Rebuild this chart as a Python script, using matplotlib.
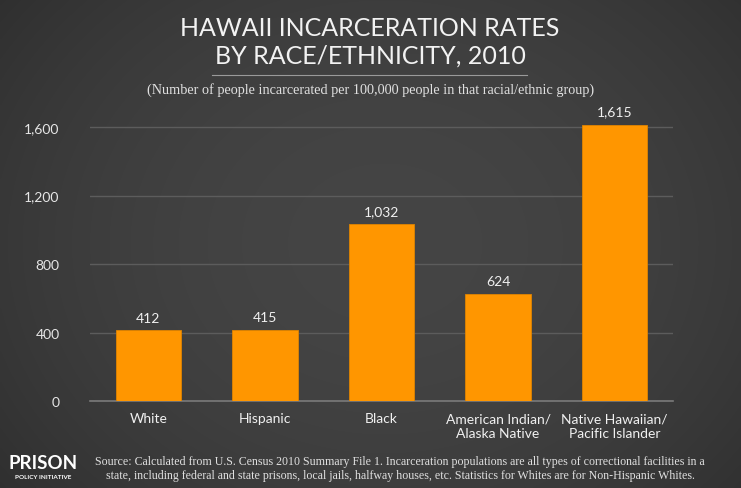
import matplotlib
matplotlib.use("Agg")
import matplotlib.pyplot as plt
import numpy as np

categories = ["White", "Hispanic", "Black", "American Indian/\nAlaska Native", "Native Hawaiian/\nPacific Islander"]
values = [412, 415, 1032, 624, 1615]
value_labels = ["412", "415", "1,032", "624", "1,615"]
yticks = [0, 400, 800, 1200, 1600]
ytick_labels = ["0", "400", "800", "1,200", "1,600"]

title = "HAWAII INCARCERATION RATES\nBY RACE/ETHNICITY, 2010"
subtitle = "(Number of people incarcerated per 100,000 people in that racial/ethnic group)"
source = ("Source: Calculated from U.S. Census 2010 Summary File 1. Incarceration populations are all types of correctional facilities in a\n"
          "state, including federal and state prisons, local jails, halfway houses, etc. Statistics for Whites are for Non-Hispanic Whites.")

W, H = 741, 489
fig = plt.figure(figsize=(W / 100, H / 100), dpi=100)

# background gradient
bg = fig.add_axes([0, 0, 1, 1], zorder=-10)
yy, xx = np.mgrid[0:1:200j, 0:1:300j]
r = np.sqrt(((xx - 0.52) / 0.72) ** 2 + ((yy - 0.5) / 0.9) ** 2)
val = 0.27 - 0.10 * np.clip(r, 0, 1) ** 2
bg.imshow(np.dstack([val, val, val]), extent=[0, 1, 0, 1], aspect="auto", interpolation="bilinear")
bg.set_axis_off()

ax = fig.add_axes([90 / W, 1 - 402 / H, (673 - 90) / W, (402 - 111) / H])
ax.set_facecolor("none")
x = np.arange(len(categories))
ax.bar(x, values, width=0.56, color="#ff9600", edgecolor="#e08400", linewidth=0.6, zorder=3)
for xi, v, lab in zip(x, values, value_labels):
    ax.annotate(lab, (xi, v), xytext=(0, 5), textcoords="offset points", ha="center", va="bottom",
                color="#f0f0f0", fontsize=10, family="Lato")
ax.set_xlim(-0.5, len(categories) - 0.5)
ax.set_ylim(0, 1700)
ax.set_yticks(yticks)
ax.set_yticklabels(ytick_labels, color="#e6e6e6", fontsize=10, family="Lato")
ax.set_xticks(x)
ax.set_xticklabels(categories, color="#f0f0f0", fontsize=10, family="Lato", linespacing=1.25, va="top")
ax.tick_params(axis="both", length=0)
ax.tick_params(axis="y", pad=22)
ax.tick_params(axis="x", pad=8)
for s in ["top", "right", "left"]:
    ax.spines[s].set_visible(False)
ax.spines["bottom"].set_color("#7a7a7a")
ax.spines["bottom"].set_linewidth(1.2)
ax.yaxis.grid(True, color="#5c5c5c", linewidth=1.0, zorder=0)
ax.set_axisbelow(True)

fig.text(370 / W, 1 - 42 / H, title, ha="center", va="center", color="#f2f2f2", fontsize=18,
         family="Lato", linespacing=1.25)
fig.add_artist(plt.Line2D([212 / W, 527 / W], [1 - 76 / H, 1 - 76 / H], color="#9a9a9a", linewidth=0.8))
fig.text(371 / W, 1 - 90 / H, subtitle, ha="center", va="center", color="#e0e0e0", fontsize=10.3,
         family="Liberation Serif")
fig.text(400 / W, 1 - 469 / H, source, ha="center", va="center", color="#e0e0e0", fontsize=8.6,
         family="Liberation Serif", linespacing=1.3)
fig.text(43 / W, 1 - 464 / H, "PRISON", ha="center", va="center", color="#ffffff", fontsize=13.5,
         family="Lato", fontweight="bold")
fig.text(43 / W, 1 - 478 / H, "POLICY INITIATIVE", ha="center", va="center", color="#ffffff", fontsize=4.6,
         family="Lato", fontweight="bold")

fig.savefig("out.png", dpi=100)
